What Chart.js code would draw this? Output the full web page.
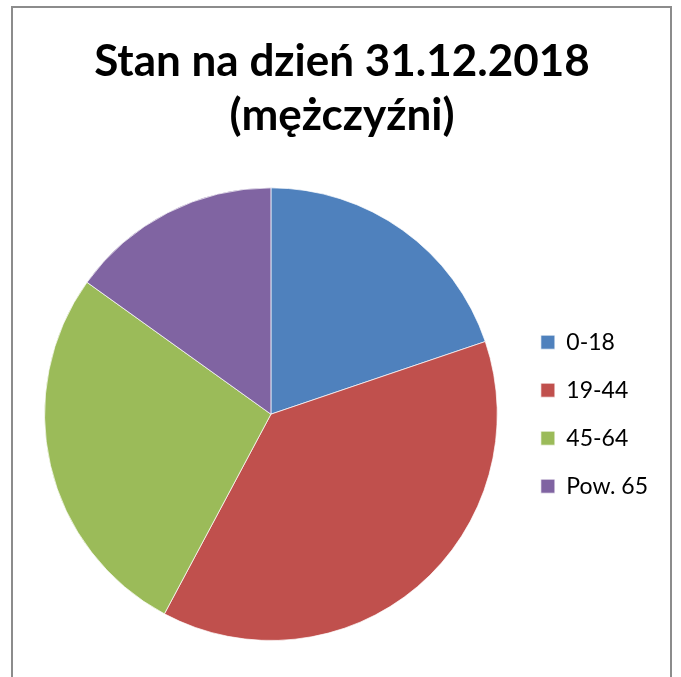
<!doctype html>
<html lang="pl">
<head>
<meta charset="utf-8">
<title>Stan na dzień 31.12.2018 (mężczyźni)</title>
<script src="https://cdn.jsdelivr.net/npm/chart.js@4"></script>
<style>
  html, body { margin: 0; padding: 0; background: #fff; overflow: hidden; }
  .frame { position: absolute; left: 11px; top: 6px; width: 657px; height: 700px; border: 2px solid #8c8c8c; }
  .wrap { position: absolute; left: 0; top: 0; width: 681px; height: 677px; }
</style>
</head>
<body>
<div class="frame"></div>
<div class="wrap"><canvas id="c" width="681" height="677"></canvas></div>
<script>
// Dane (udział w %)
const labels = ['0-18', '19-44', '45-64', 'Pow. 65'];
const values = [19.8, 38.0, 27.1, 15.1];
const colors = ['#4F81BD', '#C0504D', '#9BBB59', '#8064A2'];
const titleLines = ['Stan na dzień 31.12.2018', '(mężczyźni)'];

new Chart(document.getElementById('c'), {
  type: 'pie',
  data: {
    labels,
    datasets: [{ data: values, backgroundColor: colors, borderColor: 'rgba(255,255,255,0.7)', borderWidth: 1 }],
  },
  options: {
    responsive: false,
    animation: false,
    layout: { padding: { left: 26, right: 23, top: 0, bottom: 36 } },
    plugins: {
      tooltip: { enabled: false },
      title: {
        display: true,
        text: titleLines,
        color: '#000',
        font: { family: 'Lato', size: 44, weight: 'bold', lineHeight: 1.22 },
        padding: { top: 35, bottom: 45 },
      },
      legend: {
        position: 'right',
        fullSize: false,
        labels: {
          color: '#000',
          font: { family: 'Lato', size: 23 },
          boxWidth: 14,
          boxHeight: 14,
          padding: 25,
        },
      },
    },
  },
});
</script>
</body>
</html>
